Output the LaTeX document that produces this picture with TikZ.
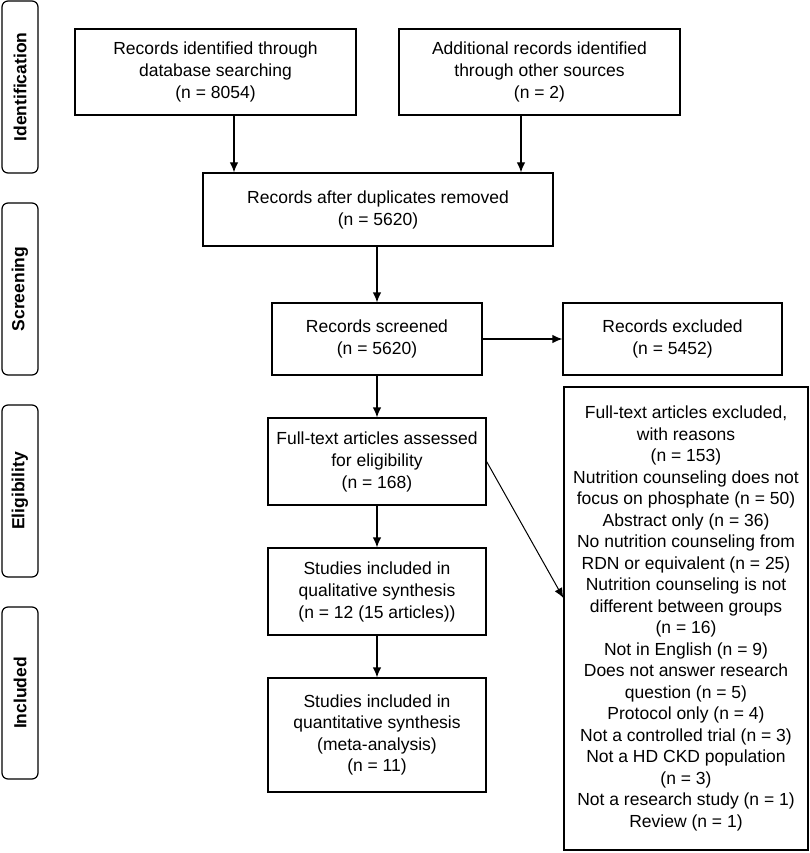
\documentclass[tikz,border=0pt]{standalone}
\usepackage{fontspec}
\setmainfont{Liberation Sans}
\usetikzlibrary{arrows.meta}
\begin{document}
\begin{tikzpicture}[x=1pt,y=-1pt,
  box/.style={draw, line width=1.2pt, align=center, inner sep=0pt,
    font=\fontsize{17.5}{22}\selectfont},
  side/.style={draw, line width=1.2pt, rounded corners=6pt, inner sep=0pt,
    rotate=90, minimum width=172pt, minimum height=36pt,
    font=\fontsize{17.5}{21}\selectfont\bfseries},
  arr/.style={line width=1.2pt, -{Latex[length=10pt,width=8.5pt]}}]
\useasboundingbox (0,0) rectangle (810,853);

% side labels
\node[side] (sid) at (20,87)  {Identification};
\node[side] (sscr) at (20,289) {Screening};
\node[side] (selg) at (20,491) {Eligibility};
\node[side] (sinc) at (20,693) {Included};

% boxes
\node[box, minimum width=281pt, minimum height=86pt] (b1) at (215.5,72)
  {Records identified through\\database searching\\(n = 8054)};
\node[box, minimum width=281pt, minimum height=86pt] (b2) at (539.5,72)
  {Additional records identified\\through other sources\\(n = 2)};
\node[box, minimum width=350pt, minimum height=73pt] (b3) at (378,209.5)
  {Records after duplicates removed\\(n = 5620)};
\node[box, minimum width=210pt, minimum height=72pt] (b4) at (377,339)
  {Records screened\\(n = 5620)};
\node[box, minimum width=219pt, minimum height=72pt] (b5) at (672.5,339)
  {Records excluded\\(n = 5452)};
\node[box, minimum width=218pt, minimum height=87pt] (b6) at (377,461.5)
  {Full-text articles assessed\\for eligibility\\(n = 168)};
\node[box, minimum width=218pt, minimum height=87pt] (b7) at (377,591.5)
  {Studies included in\\qualitative synthesis\\(n = 12 (15 articles))};
\node[box, minimum width=218pt, minimum height=114pt, font=\fontsize{17.5}{21.5}\selectfont] (b8) at (377,735)
  {Studies included in\\quantitative synthesis\\(meta-analysis)\\(n = 11)};
\node[box, minimum width=244pt, minimum height=463pt, font=\fontsize{17.5}{21.5}\selectfont] (ex) at (686,618.5)
  {Full-text articles excluded,\\with reasons\\(n = 153)\\
   Nutrition counseling does not\\focus on phosphate (n = 50)\\
   Abstract only (n = 36)\\
   No nutrition counseling from\\RDN or equivalent (n = 25)\\
   Nutrition counseling is not\\different between groups\\(n = 16)\\
   Not in English (n = 9)\\
   Does not answer research\\question (n = 5)\\
   Protocol only (n = 4)\\
   Not a controlled trial (n = 3)\\
   Not a HD CKD population\\(n = 3)\\
   Not a research study (n = 1)\\
   Review (n = 1)};

% connector anchors
\coordinate (c1) at (234,0);
\coordinate (c2) at (521,0);
\coordinate (exin) at (564,598);

% connectors
\draw[arr] (b1.south -| c1) -- (b3.north -| c1);
\draw[arr] (b2.south -| c2) -- (b3.north -| c2);
\draw[arr] (b3.south -| b4.north) -- (b4.north);
\draw[arr] (b4.east) -- (b5.west);
\draw[arr] (b4.south) -- (b6.north);
\draw[arr] (b6.south) -- (b7.north);
\draw[arr] (b7.south) -- (b8.north);
\draw[arr, line width=1pt] (b6.east) -- (ex.west |- exin);
\end{tikzpicture}
\end{document}
